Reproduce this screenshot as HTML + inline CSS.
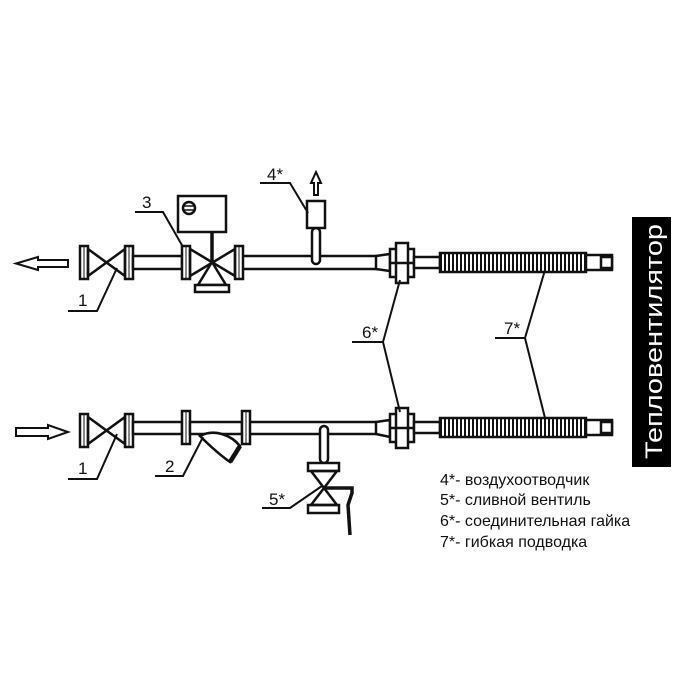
<!DOCTYPE html>
<html><head><meta charset="utf-8"><style>
html,body{margin:0;padding:0;background:#fff;}
svg{display:block;}
text{font-family:"Liberation Sans","DejaVu Sans",sans-serif;fill:#111;}
</style></head><body>
<svg width="700" height="700" viewBox="0 0 700 700" xmlns="http://www.w3.org/2000/svg">
<defs>
<pattern id="rib" x="440" y="0" width="4" height="10" patternUnits="userSpaceOnUse">
<rect x="0" y="0" width="4" height="10" fill="#fff"/><rect x="0" y="0" width="2" height="10" fill="#111"/>
</pattern>
</defs>
<g stroke="#111" stroke-width="2.5" fill="#fff">
<polygon points="68,260 38,260 38,257 16,263.5 38,270 38,267 68,267" stroke-width="2"/>
<rect x="80" y="246" width="8" height="33"/><line x1="84" y1="246" x2="84" y2="279" stroke-width="1"/>
<rect x="125" y="246" width="8" height="33"/><line x1="129" y1="246" x2="129" y2="279" stroke-width="1"/>
<polyline points="88,249 125,276 125,249 88,276 88,249" fill="none"/>
<rect x="133" y="256" width="49" height="13"/>
<rect x="182" y="246" width="8" height="33"/><line x1="186" y1="246" x2="186" y2="279" stroke-width="1"/>
<rect x="235" y="246" width="8" height="33"/><line x1="239" y1="246" x2="239" y2="279" stroke-width="1"/>
<polyline points="190,249 235,276 235,249 190,276 190,249" fill="none"/>
<polyline points="212,262 198,285 226,285 212,262" fill="#fff"/>
<rect x="195" y="285" width="34" height="7"/>
<line x1="212" y1="232" x2="212" y2="262" stroke-width="3.5"/>
<rect x="178" y="196" width="48" height="36"/>
<circle cx="189" cy="208" r="6"/>
<line x1="184" y1="206" x2="194" y2="206" stroke-width="1.5"/><line x1="184" y1="210" x2="194" y2="210" stroke-width="1.5"/>
<path d="M243,256 H378 M243,269 H378" fill="none"/>
<rect x="312" y="228" width="8" height="36" rx="4"/>
<rect x="307" y="201" width="18" height="27"/>
<polygon points="314,195 314,183 311,183 316,172 321,183 318,183 318,195" stroke-width="2"/>
<polygon points="376,256 390,254 390,271 376,269" />
<rect x="390" y="249" width="24" height="28"/>
<rect x="396" y="243" width="12" height="40"/>
<line x1="390" y1="263" x2="414" y2="263"/>
<rect x="414" y="257" width="26" height="11"/>
<rect x="440" y="253" width="146" height="19" fill="url(#rib)"/>
<rect x="586" y="255" width="26" height="15"/>
<rect x="601" y="257" width="11" height="11"/>

<polygon points="16,428 48,428 48,425 68,432 48,439 48,436 16,436" stroke-width="2"/>
<rect x="80" y="414" width="8" height="33"/><line x1="84" y1="414" x2="84" y2="447" stroke-width="1"/>
<rect x="125" y="414" width="8" height="33"/><line x1="129" y1="414" x2="129" y2="447" stroke-width="1"/>
<polyline points="88,417 125,444 125,417 88,444 88,417" fill="none"/>
<rect x="133" y="422" width="49" height="12"/>
<rect x="182" y="411" width="8" height="33"/><line x1="186" y1="411" x2="186" y2="444" stroke-width="1"/>
<rect x="190" y="422" width="52" height="12"/>
<path d="M200,436 C215,428 232,436 240,446 L230,462 C220,455 210,446 200,436 Z"/>
<line x1="240" y1="446" x2="230" y2="462" stroke-width="4.5"/>
<rect x="242" y="411" width="8" height="33"/><line x1="246" y1="411" x2="246" y2="444" stroke-width="1"/>
<path d="M250,422 H378 M250,434 H378" fill="none"/>
<rect x="320" y="426" width="8" height="37" rx="4"/>
<rect x="308" y="463" width="31" height="8"/>
<rect x="308" y="505" width="31" height="8"/>
<polyline points="311,471 337,505 311,505 337,471 311,471" fill="none"/>
<polyline points="324,488 352,488 352,493 348,505 350,535" fill="none" stroke-width="3.5"/>
<polygon points="376,422 390,420 390,437 376,434"/>
<rect x="390" y="414" width="24" height="28"/>
<rect x="396" y="408" width="12" height="40"/>
<line x1="390" y1="428" x2="414" y2="428"/>
<rect x="414" y="422" width="26" height="11"/>
<rect x="440" y="418" width="146" height="19" fill="url(#rib)"/>
<rect x="586" y="420" width="26" height="15"/>
<rect x="601" y="422" width="11" height="11"/>
</g>

<g stroke="#111" stroke-width="2" fill="none">
<polyline points="68,311 97,311 117,268"/>
<polyline points="135,212 163,212 183,247"/>
<polyline points="260,183 290,183 308,213"/>
<polyline points="68,479 97,479 117,434"/>
<polyline points="155,476 183,476 203,437"/>
<polyline points="262,508 290,508 322,486"/>
<polyline points="400,280 383,342 400,412"/>
<line x1="352" y1="342" x2="383" y2="342"/>
<polyline points="545,270 525,338 545,418"/>
<line x1="495" y1="338" x2="525" y2="338"/>
</g>
<g font-size="17">
<text x="78" y="306">1</text>
<text x="142" y="208">3</text>
<text x="267" y="180">4*</text>
<text x="78" y="474">1</text>
<text x="165" y="472">2</text>
<text x="269" y="505">5*</text>
<text x="362" y="338">6*</text>
<text x="504" y="334">7*</text>
</g>
<g font-size="16">
<text x="440" y="485">4*- воздухоотводчик</text>
<text x="440" y="505">5*- сливной вентиль</text>
<text x="440" y="526">6*- соединительная гайка</text>
<text x="440" y="547">7*- гибкая подводка</text>
</g>
<rect x="632" y="217" width="39" height="250" fill="#000"/>
<text transform="translate(662,459) rotate(-90)" font-size="24" style="fill:#fff" textLength="235" lengthAdjust="spacingAndGlyphs">Тепловентилятор</text>
</svg>
</body></html>
